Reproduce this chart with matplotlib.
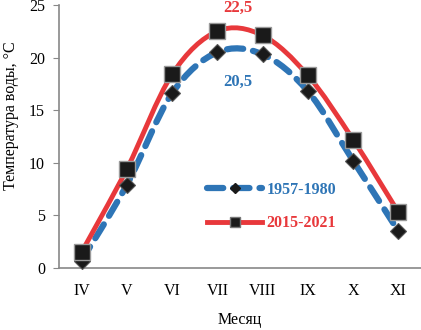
import numpy as np
import matplotlib.pyplot as plt
from matplotlib.path import Path
from matplotlib.patches import PathPatch

months = ['IV', 'V', 'VI', 'VII', 'VIII', 'IX', 'X', 'XI']
t_1957_1980 = [0.7, 7.9, 16.6, 20.5, 20.3, 16.8, 10.2, 3.5]
t_2015_2021 = [1.5, 9.4, 18.4, 22.5, 22.1, 18.3, 12.2, 5.3]

blue = '#2e75b6'
red = '#e8383b'

plt.rcParams['font.family'] = ['Liberation Serif', 'DejaVu Serif']


def smooth_path(x, y):
    # Excel-like smoothed line: Catmull-Rom segments as cubic Beziers
    pts = np.column_stack([x, y]).astype(float)
    verts = [pts[0]]
    codes = [Path.MOVETO]
    n = len(pts)
    for i in range(n - 1):
        p0 = pts[i - 1] if i > 0 else pts[i]
        p1 = pts[i]
        p2 = pts[i + 1]
        p3 = pts[i + 2] if i + 2 < n else pts[i + 1]
        c1 = p1 + (p2 - p0) / 6.0
        c2 = p2 - (p3 - p1) / 6.0
        verts += [c1, c2, p2]
        codes += [Path.CURVE4] * 3
    return Path(verts, codes)


fig = plt.figure(figsize=(4.21, 3.30), dpi=100)
ax = fig.add_axes([0.14, 0.188, 0.86, 0.797])

x = np.arange(len(months))

ax.add_patch(PathPatch(smooth_path(x, t_1957_1980), fill=False, edgecolor=blue,
                       lw=4.5, linestyle=(0, (2.6, 1.6)), capstyle='round', zorder=2))
ax.add_patch(PathPatch(smooth_path(x, t_2015_2021), fill=False, edgecolor=red,
                       lw=3.5, zorder=3))
ax.plot(x, t_1957_1980, linestyle='none', marker='D', ms=8.5, color='#1a1a1a',
        mec='#555555', mew=0.8, zorder=4, clip_on=False)
ax.plot(x, t_2015_2021, linestyle='none', marker='s', ms=12, color='#1a1a1a',
        mec='#999999', mew=1.0, zorder=5, clip_on=False)

# legend handles
l1, = ax.plot([], [], color=blue, lw=4.5, linestyle=(0, (2.6, 1.6)),
              marker='D', ms=5, mfc='#1a1a1a', mec='#1a1a1a',
              dash_capstyle='round')
l2, = ax.plot([], [], color=red, lw=3.5, marker='s', ms=7, mfc='#1a1a1a', mec='#777777')
leg = ax.legend([l1, l2], ['1957-1980', '2015-2021'], loc='lower left',
                bbox_to_anchor=(0.41, 0.14), frameon=False, handlelength=3.4,
                borderpad=0, borderaxespad=0,
                prop={'weight': 'bold', 'size': 11.5}, labelspacing=1.1, handletextpad=0.3)
for txt, c in zip(leg.get_texts(), [blue, red]):
    txt.set_color(c)

ax.text(3.45, 24.7, '22,5', color=red, fontsize=12, fontweight='bold', ha='center', va='center')
ax.text(3.45, 17.7, '20,5', color=blue, fontsize=12, fontweight='bold', ha='center', va='center')

ax.set_xlim(-0.5, 7.5)
ax.set_ylim(0, 25)
ax.set_yticks([0, 5, 10, 15, 20, 25])
ax.set_xticks(x)
ax.set_xticklabels(months)
ax.tick_params(axis='x', length=0, pad=11, labelsize=11.5)
ax.tick_params(axis='y', length=4, color='#888888', labelsize=11.5, pad=6)
for s in ['top', 'right']:
    ax.spines[s].set_visible(False)
for s in ['left', 'bottom']:
    ax.spines[s].set_color('#888888')
    ax.spines[s].set_linewidth(1.2)

ax.set_ylabel('Температура воды, °С', fontsize=11.5)
ax.yaxis.set_label_coords(-0.11, 0.58)
ax.set_xlabel('Месяц', fontsize=11.5, labelpad=9)

fig.savefig('out.png', dpi=100)
